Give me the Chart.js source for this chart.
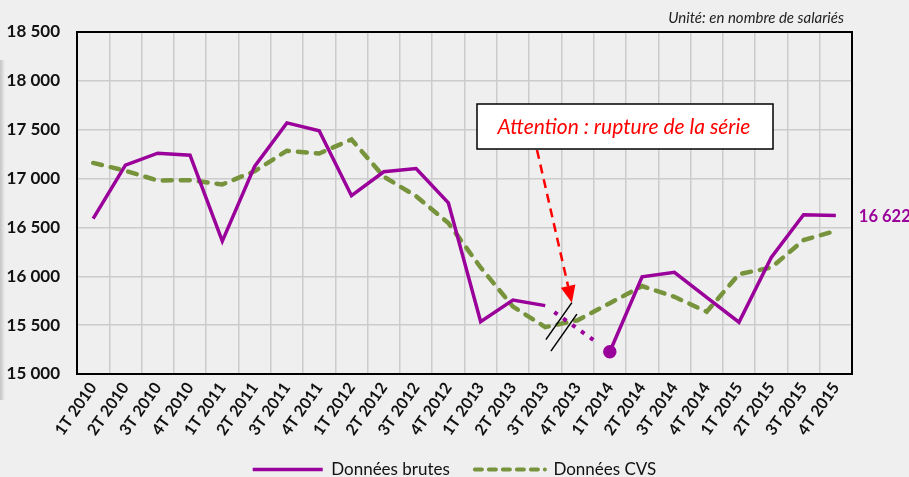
<!DOCTYPE html>
<html>
<head>
<meta charset="utf-8">
<script src="https://cdn.jsdelivr.net/npm/chart.js@4"></script>
<style>
  html, body { margin: 0; padding: 0; background: #efefef; overflow: hidden; }
  #wrap { position: relative; width: 909px; height: 488px; }
  #shade { position: absolute; left: 0; top: 60px; width: 5px; height: 340px;
           background: linear-gradient(to right, #c4c4c4, #efefef); }
</style>
</head>
<body>
<div id="wrap"><div id="shade"></div><canvas id="chart"></canvas></div>
<script>
const labels = [
  "1T 2010", "2T 2010", "3T 2010", "4T 2010",
  "1T 2011", "2T 2011", "3T 2011", "4T 2011",
  "1T 2012", "2T 2012", "3T 2012", "4T 2012",
  "1T 2013", "2T 2013", "3T 2013", "4T 2013",
  "1T 2014", "2T 2014", "3T 2014", "4T 2014",
  "1T 2015", "2T 2015", "3T 2015", "4T 2015"
];
// données brutes (null = rupture de la série)
const brutes = [
  16590, 17137, 17260, 17239,
  16360, 17125, 17570, 17490,
  16825, 17070, 17103, 16752,
  15535, 15757, 15700, null,
  15228, 15995, 16040, 15785,
  15530, 16193, 16630, 16622
];
// données CVS
const cvs = [
  17160, 17080, 16980, 16984,
  16940, 17075, 17285, 17257,
  17400, 17020, 16820, 16545,
  16090, 15690, 15480, 15550,
  15725, 15900, 15790, 15637,
  16022, 16090, 16370, 16465
];
const yMin = 15000, yMax = 18500, yStep = 500;

const purple = "#9a009a";
const green = "#77933c";
const font = "Lato, 'Open Sans', sans-serif";

function fmt(v) {
  return String(v).replace(/\B(?=(\d{3})+(?!\d))/g, " ");
}

const gapIdx = brutes.indexOf(null);

const decorPlugin = {
  id: "decor",
  afterDatasetsDraw(chart) {
    const { ctx, chartArea: a, scales: { x, y } } = chart;
    ctx.save();

    // cadre du haut
    ctx.strokeStyle = "#000";
    ctx.lineWidth = 2;
    ctx.beginPath();
    ctx.moveTo(a.left, a.top);
    ctx.lineTo(a.right, a.top);
    ctx.stroke();

    // pointillés de la rupture
    const x0 = x.getPixelForValue(gapIdx - 1), y0 = y.getPixelForValue(brutes[gapIdx - 1]);
    const x1 = x.getPixelForValue(gapIdx + 1), y1 = y.getPixelForValue(brutes[gapIdx + 1]);
    ctx.strokeStyle = purple;
    ctx.lineWidth = 4;
    ctx.setLineDash([4, 7]);
    ctx.beginPath();
    ctx.moveTo(x0 + (x1 - x0) * 0.14, y0 + (y1 - y0) * 0.14);
    ctx.lineTo(x0 + (x1 - x0) * 0.75, y0 + (y1 - y0) * 0.75);
    ctx.stroke();
    ctx.setLineDash([]);

    // traits de rupture
    const cx = (x.getPixelForValue(gapIdx - 1) + x.getPixelForValue(gapIdx)) / 2;
    const cy = y.getPixelForValue((cvs[gapIdx - 1] + cvs[gapIdx]) / 2) + 3;
    const dx = 13, dy = -18.5;
    ctx.strokeStyle = "#000";
    ctx.lineWidth = 1.5;
    [[-2.5, -5.5], [2.5, 6]].forEach(([ox, oy]) => {
      ctx.beginPath();
      ctx.moveTo(cx + ox - dx, cy + oy - dy);
      ctx.lineTo(cx + ox + dx, cy + oy + dy);
      ctx.stroke();
    });
    const tipX = cx - 2.5 + dx, tipY = cy - 5.5 + dy;

    // flèche
    const sx = 537, sy = 150;
    const ang = Math.atan2(tipY - sy, tipX - sx);
    const headLen = 17, headW = 7.5;
    const bx = tipX - Math.cos(ang) * headLen, by = tipY - Math.sin(ang) * headLen;
    ctx.strokeStyle = "#ff0000";
    ctx.lineWidth = 2.5;
    ctx.setLineDash([9, 6]);
    ctx.beginPath();
    ctx.moveTo(sx, sy);
    ctx.lineTo(bx, by);
    ctx.stroke();
    ctx.setLineDash([]);
    ctx.fillStyle = "#ff0000";
    ctx.beginPath();
    ctx.moveTo(tipX, tipY);
    ctx.lineTo(bx - Math.sin(ang) * headW, by + Math.cos(ang) * headW);
    ctx.lineTo(bx + Math.sin(ang) * headW, by - Math.cos(ang) * headW);
    ctx.closePath();
    ctx.fill();

    // encadré
    ctx.fillStyle = "#fff";
    ctx.fillRect(477, 104, 296, 45);
    ctx.strokeStyle = "#000";
    ctx.lineWidth = 1.5;
    ctx.strokeRect(477, 104, 296, 45);
    ctx.fillStyle = "#ff0000";
    ctx.font = "italic 21px " + font;
    ctx.textAlign = "center";
    ctx.textBaseline = "middle";
    ctx.fillText("Attention : rupture de la série", 624, 127);

    // dernière valeur
    const last = brutes.length - 1;
    ctx.fillStyle = purple;
    ctx.font = "bold 16.5px " + font;
    ctx.textAlign = "left";
    ctx.fillText(fmt(brutes[last]), x.getPixelForValue(last) + 23, y.getPixelForValue(brutes[last]) + 1);

    // unité
    ctx.fillStyle = "#222";
    ctx.font = "italic 15px " + font;
    ctx.textAlign = "right";
    ctx.fillText("Unité: en nombre de salariés", a.right - 8, 18);

    ctx.restore();
  }
};

new Chart(document.getElementById("chart"), {
  type: "line",
  data: {
    labels: labels,
    datasets: [
      {
        label: "Données brutes",
        data: brutes,
        borderColor: purple,
        backgroundColor: purple,
        borderWidth: 3.5,
        spanGaps: false,
        pointRadius: c => (c.dataIndex > 0 && brutes[c.dataIndex - 1] === null ? 5 : 0),
        pointHoverRadius: 0,
        tension: 0
      },
      {
        label: "Données CVS",
        data: cvs,
        borderColor: green,
        backgroundColor: green,
        borderWidth: 4.5,
        borderDash: [9, 9],
        borderCapStyle: "round",
        pointRadius: 0,
        pointHoverRadius: 0,
        tension: 0
      }
    ]
  },
  options: {
    responsive: true,
    maintainAspectRatio: false,
    animation: false,
    layout: { padding: { top: 32, left: 0, right: 0, bottom: 0 } },
    scales: {
      x: {
        offset: true,
        grid: { color: "#cccccc", lineWidth: 1.5, drawTicks: false, offset: true },
        border: { color: "#000", width: 2 },
        ticks: {
          autoSkip: false,
          minRotation: 55,
          maxRotation: 55,
          padding: 5,
          color: "#111",
          font: { family: font, weight: "bold", size: 16 }
        },
        afterFit: s => { s.height = 62; }
      },
      y: {
        min: yMin,
        max: yMax,
        grid: { color: "#cccccc", lineWidth: 1.5, drawTicks: false },
        border: { color: "#000", width: 2 },
        ticks: {
          stepSize: yStep,
          padding: 17,
          color: "#111",
          callback: v => fmt(v),
          font: { family: font, weight: "bold", size: 17 }
        },
        afterFit: s => { s.width = 77; }
      },
      y2: {
        position: "right",
        grid: { display: false },
        border: { color: "#000", width: 2 },
        ticks: { display: false },
        afterFit: s => { s.width = 57; }
      }
    },
    plugins: {
      legend: {
        position: "bottom",
        labels: {
          usePointStyle: true,
          pointStyle: "line",
          pointStyleWidth: 70,
          padding: 25,
          color: "#111",
          font: { family: font, size: 17 },
          generateLabels(chart) {
            const items = Chart.defaults.plugins.legend.labels.generateLabels(chart);
            items.forEach(it => {
              const ds = chart.data.datasets[it.datasetIndex];
              it.lineWidth = ds.borderDash ? 4 : ds.borderWidth;
              it.lineDash = ds.borderDash ? [7, 7] : [];
              it.lineCap = ds.borderCapStyle || "butt";
              it.strokeStyle = ds.borderColor;
            });
            return items;
          }
        }
      },
      tooltip: { enabled: false }
    }
  },
  plugins: [decorPlugin]
});
</script>
</body>
</html>
